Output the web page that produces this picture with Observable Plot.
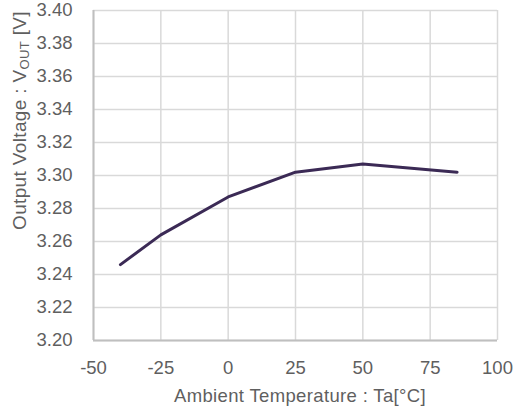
<!DOCTYPE html>
<html>
<head>
<meta charset="utf-8">
<script src="https://cdn.jsdelivr.net/npm/d3@7"></script>
<script src="https://cdn.jsdelivr.net/npm/@observablehq/plot@0.6"></script>
<style>
  html, body { margin: 0; padding: 0; background: #fff; }
  #chart { width: 516px; height: 410px; }
</style>
</head>
<body>
<div id="chart"></div>
<script>
const temperatures = [-40, -25, 0, 25, 50, 85];
const voltages = [3.246, 3.264, 3.287, 3.302, 3.307, 3.302];
const xTicks = [-50, -25, 0, 25, 50, 75, 100];
const yTicks = [3.20, 3.22, 3.24, 3.26, 3.28, 3.30, 3.32, 3.34, 3.36, 3.38, 3.40];
const xTitle = "Ambient Temperature : Ta[°C]";
const yTitleParts = ["Output Voltage : V", "OUT", " [V]"];

const data = temperatures.map((t, i) => ({t, v: voltages[i]}));

const W = 516, H = 410;
const mL = 93, mR = 19, mT = 10, mB = 70;

const plot = Plot.plot({
  width: W,
  height: H,
  marginLeft: mL,
  marginRight: mR,
  marginTop: mT,
  marginBottom: mB,
  style: {fontFamily: "'Liberation Sans', Arial, sans-serif", fontSize: "18.5px", color: "#5f5f5f", background: "#fff"},
  x: {domain: [-50, 100], ticks: xTicks, tickSize: 0, tickPadding: 20, label: null, tickFormat: d => String(d)},
  y: {domain: [3.20, 3.40], ticks: yTicks, tickSize: 0, tickPadding: 21, label: null, tickFormat: d => d.toFixed(2)},
  marks: [
    Plot.gridX(xTicks, {stroke: "#d9d9d9", strokeOpacity: 1, strokeWidth: 1.5}),
    Plot.gridY(yTicks, {stroke: "#d9d9d9", strokeOpacity: 1, strokeWidth: 1.5}),
    Plot.ruleX([-50], {stroke: "#bfbfbf", strokeWidth: 2}),
    Plot.ruleY([3.20], {stroke: "#bfbfbf", strokeWidth: 2}),
    Plot.line(data, {x: "t", y: "v", stroke: "#3b2a55", strokeWidth: 3, strokeLinejoin: "round"})
  ]
});

document.getElementById("chart").appendChild(plot);

const svg = d3.select(plot);
const font = "'Liberation Sans', Arial, sans-serif";
svg.append("text")
  .attr("x", 300)
  .attr("y", 402)
  .attr("text-anchor", "middle")
  .attr("fill", "#5f5f5f")
  .attr("font-family", font)
  .attr("font-size", 18.5)
  .attr("letter-spacing", 0.35)
  .text(xTitle);

const yt = svg.append("text")
  .attr("transform", "translate(26,120.5) rotate(-90)")
  .attr("text-anchor", "middle")
  .attr("fill", "#5f5f5f")
  .attr("font-family", font)
  .attr("font-size", 19)
  .attr("letter-spacing", 0.35);
yt.append("tspan").text(yTitleParts[0]);
yt.append("tspan").attr("font-size", 13).attr("dy", 3).text(yTitleParts[1]);
yt.append("tspan").attr("dy", -3).text(yTitleParts[2]);
</script>
</body>
</html>
